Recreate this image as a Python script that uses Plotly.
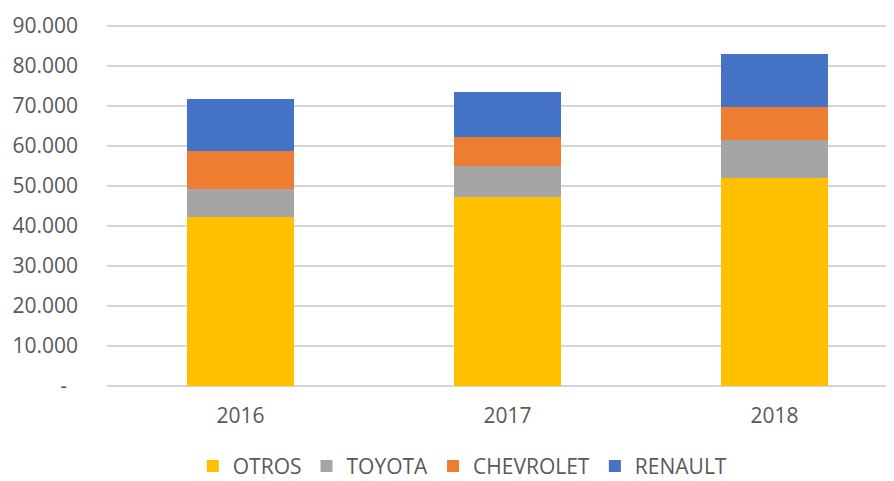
import plotly.graph_objects as go

years = ["2016", "2017", "2018"]
otros = [42330, 47250, 52080]
toyota = [6840, 7670, 9420]
chevrolet = [9580, 7250, 8170]
renault = [12950, 11330, 13330]

ytick_vals = [0, 10000, 20000, 30000, 40000, 50000, 60000, 70000, 80000, 90000]
ytick_text = ["-\u00a0\u00a0", "10.000", "20.000", "30.000", "40.000", "50.000",
              "60.000", "70.000", "80.000", "90.000"]

series = [
    ("OTROS", otros, "#FFC000"),
    ("TOYOTA", toyota, "#A5A5A5"),
    ("CHEVROLET", chevrolet, "#ED7D31"),
    ("RENAULT", renault, "#4472C4"),
]

font_family = "Open Sans, Liberation Sans, Arial, sans-serif"
text_color = "#595959"

fig = go.Figure()
for name, vals, color in series:
    fig.add_trace(go.Bar(
        x=years, y=vals, name=name,
        marker=dict(color=color, line=dict(width=0)),
        width=0.4,
    ))

# The page body has an 8px default margin, so the figure is 8px smaller
fig.update_layout(
    barmode="stack",
    width=886, height=473,
    margin=dict(l=99, r=0, t=14, b=95, autoexpand=False),
    paper_bgcolor="white", plot_bgcolor="white",
    font=dict(family=font_family, size=21, color=text_color),
    showlegend=True,
    legend=dict(
        orientation="h", traceorder="normal",
        x=0.109, xanchor="left", y=-0.221, yanchor="middle",
        font=dict(size=21, color=text_color),
        itemwidth=30, tracegroupgap=0,
    ),
    xaxis=dict(
        type="category",
        range=[-0.5, 2.448],
        automargin=False,
        showgrid=False, showline=False, zeroline=False,
        ticks="", ticklabelstandoff=15,
        tickfont=dict(size=21, color=text_color),
    ),
    yaxis=dict(
        range=[0, 91000],
        automargin=False,
        tickvals=ytick_vals, ticktext=ytick_text,
        showgrid=True, gridcolor="#D4D4D4", gridwidth=1.5,
        zeroline=True, zerolinecolor="#D4D4D4", zerolinewidth=1.5,
        showline=False, ticks="", ticklabelstandoff=28,
        tickfont=dict(size=21, color=text_color),
    ),
)

fig.write_html("out.html")
